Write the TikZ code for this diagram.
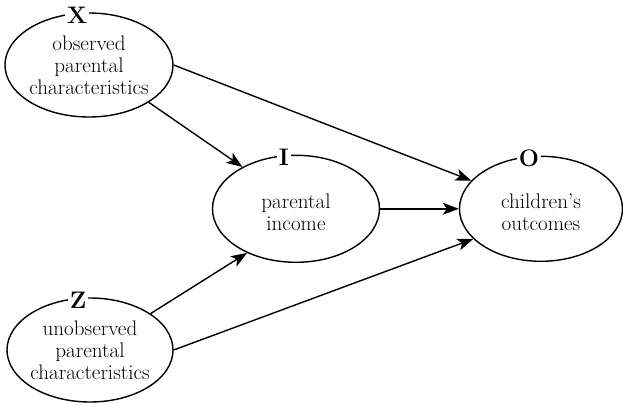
\documentclass[tikz,border=0pt]{standalone}
\usepackage{tikz}
\usetikzlibrary{shapes.geometric, arrows.meta}

\begin{document}
\begin{tikzpicture}[
                    var/.style = {draw=black, ellipse, line width=1pt, minimum width=4.2cm, minimum height=2.6cm, inner sep=0pt},
                    txt/.style = {align=center, inner sep=0pt, font=\fontsize{15}{15.8}\selectfont},
                    letter/.style = {fill=white, inner sep=1.5pt, xshift=-0.3cm, yshift=-0.07cm, font=\fontsize{17}{18}\selectfont\bfseries},
                    conn/.style = {-{Stealth[length=4mm, width=3mm, inset=1mm]}, line width=1pt}
                ]
                    \useasboundingbox (0,0) rectangle (15.575,-10.075);

                    \node[var] (X) at (2.225,-1.625) {};
                    \node[var, minimum width=4.175cm, minimum height=2.675cm] (I) at (7.4,-5.22) {};
                    \node[var, minimum width=4.075cm, minimum height=2.625cm] (O) at (13.525,-5.22) {};
                    \node[var, minimum width=4.15cm] (Z) at (2.25,-8.75) {};

                    \node[letter] (Xname) at (X.north) {X};
                    \node[letter] (Iname) at (I.north) {I};
                    \node[letter] (Oname) at (O.north) {O};
                    \node[letter] (Zname) at (Z.north) {Z};

                    \node[txt] (Xtext) at (X) {observed\\parental\\characteristics};
                    \node[txt] (Itext) at ([yshift=-0.08cm]I) {parental\\income};
                    \node[txt] (Otext) at ([yshift=-0.08cm]O) {children’s\\outcomes};
                    \node[txt] (Ztext) at (Z) {unobserved\\parental\\characteristics};

                    \draw[conn] (X.-32) -- (I.142);
                    \draw[conn] (X.east) -- (O.158);
                    \draw[conn] (I.east) -- (O.west);
                    \draw[conn] (Z.31) -- (I.222);
                    \draw[conn] (Z.east) -- (O.204);
                \end{tikzpicture}
\end{document}
